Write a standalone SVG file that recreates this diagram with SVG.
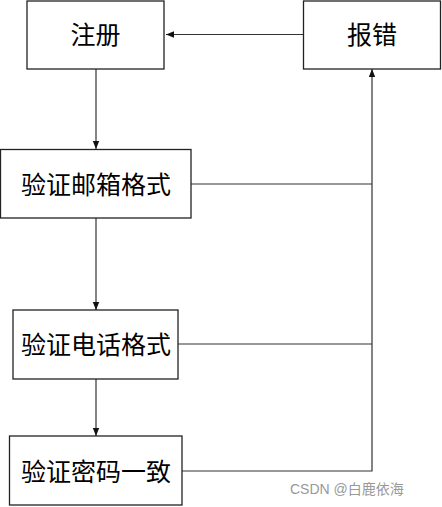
<svg xmlns="http://www.w3.org/2000/svg" width="442" height="507" viewBox="0 0 442 507">
<style>
.box{fill:#fff;stroke:#222;stroke-width:1.3}
.lbl{font-family:"Noto Sans CJK SC","Noto Sans",sans-serif;font-size:25px;font-weight:400;fill:#000;text-anchor:middle;dominant-baseline:central}
.ln{fill:none;stroke:#333;stroke-width:1.2}
.wm{font-family:"Liberation Sans","Noto Sans CJK SC",sans-serif;font-size:14px;fill:#999}
</style>
<defs>
<marker id="ah" viewBox="0 0 10 10" refX="10" refY="5" markerWidth="8" markerHeight="8" markerUnits="userSpaceOnUse" orient="auto">
<path d="M0,1 L10,5 L0,9 Z" fill="#111"/>
</marker>
</defs>
<rect width="442" height="507" fill="#fff"/>
<g id="connectors">
<path class="ln" d="M303,34.5 H166" marker-end="url(#ah)"/>
<path class="ln" d="M96,69 V149" marker-end="url(#ah)"/>
<path class="ln" d="M96,218 V310" marker-end="url(#ah)"/>
<path class="ln" d="M96,379 V436" marker-end="url(#ah)"/>
<path class="ln" d="M191,184 H372"/>
<path class="ln" d="M178,344 H372"/>
<path class="ln" d="M182,471 H372 V69" marker-end="url(#ah)"/>
</g>
<g id="zhuce">
<rect class="box" x="27" y="1" width="137" height="68"/>
<text class="lbl" x="95.5" y="32.5">注册</text>
</g>
<g id="baocuo">
<rect class="box" x="303.5" y="1" width="137" height="68"/>
<text class="lbl" x="372" y="32.5">报错</text>
</g>
<g id="youxiang">
<rect class="box" x="0.5" y="149.5" width="190.5" height="68.5"/>
<text class="lbl" x="96" y="182.5">验证邮箱格式</text>
</g>
<g id="dianhua">
<rect class="box" x="13" y="310" width="165" height="69"/>
<text class="lbl" x="96" y="343">验证电话格式</text>
</g>
<g id="mima">
<rect class="box" x="9.5" y="436" width="172.5" height="69"/>
<text class="lbl" x="96" y="470">验证密码一致</text>
</g>
<text class="wm" x="290" y="494">CSDN @白鹿依海</text>
</svg>
